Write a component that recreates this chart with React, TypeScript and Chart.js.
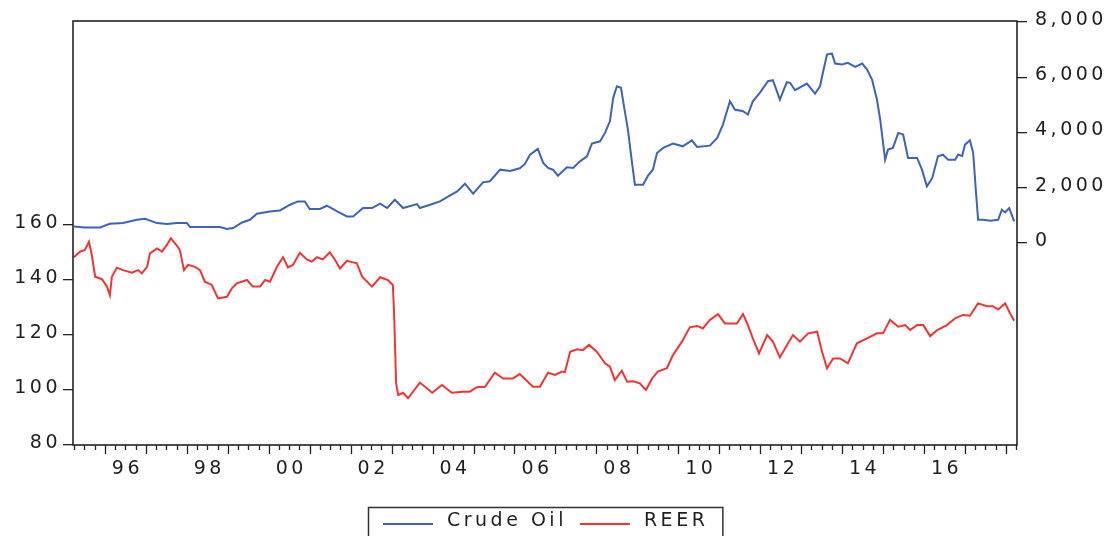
import React, { useEffect, useRef } from 'react';
import { Chart, registerables } from 'chart.js';

Chart.register(...registerables);

const LS = '3.5px';
const FONT = '"DejaVu Sans", "Liberation Sans", Arial, sans-serif';
const FONT_SIZE = 19;
const TEXT = '#1e1e1e';
const AXIS = '#222222';

// x axis: decimal years
const xMin = 1995.22;
const xMax = 2018.27;
const xTickYears = [1996, 1998, 2000, 2002, 2004, 2006, 2008, 2010, 2012, 2014, 2016];
const xTickLabels = ['96', '98', '00', '02', '04', '06', '08', '10', '12', '14', '16'];

const leftTicks = [80, 100, 120, 140, 160];
const rightTicks = [0, 2000, 4000, 6000, 8000];

const seriesNames = ['Crude Oil', 'REER'];
const seriesColors = ['#3d63b5', '#ee3535'];

const oilDates = [
  1995.24, 1995.5, 1995.88, 1996.12, 1996.44, 1996.78, 1996.98, 1997.27, 1997.51, 1997.76,
  1998.0, 1998.08, 1998.81, 1998.98, 1999.13, 1999.35, 1999.54, 1999.71, 2000.03, 2000.27,
  2000.52, 2000.71, 2000.88, 2001.0, 2001.25, 2001.42, 2001.67, 2001.91, 2002.06, 2002.3,
  2002.52, 2002.72, 2002.89, 2003.08, 2003.28, 2003.62, 2003.69, 2003.94, 2004.18, 2004.42,
  2004.6, 2004.79, 2004.99, 2005.23, 2005.4, 2005.65, 2005.89, 2006.13, 2006.25, 2006.38,
  2006.57, 2006.7, 2006.82, 2006.94, 2007.06, 2007.28, 2007.43, 2007.6, 2007.77, 2007.89,
  2008.09, 2008.21, 2008.33, 2008.41, 2008.5, 2008.6, 2008.7, 2008.77, 2008.87, 2008.94,
  2009.14, 2009.26, 2009.38, 2009.48, 2009.63, 2009.87, 2010.11, 2010.33, 2010.46, 2010.77,
  2010.95, 2011.09, 2011.26, 2011.38, 2011.58, 2011.7, 2011.82, 2011.99, 2012.19, 2012.31,
  2012.48, 2012.65, 2012.73, 2012.85, 2013.14, 2013.34, 2013.46, 2013.53, 2013.63, 2013.75,
  2013.83, 2014.0, 2014.14, 2014.32, 2014.49, 2014.61, 2014.73, 2014.85, 2014.93, 2015.05,
  2015.12, 2015.24, 2015.37, 2015.49, 2015.61, 2015.83, 2015.95, 2016.07, 2016.2, 2016.34,
  2016.46, 2016.59, 2016.76, 2016.83, 2016.93, 2017.0, 2017.12, 2017.2, 2017.27, 2017.32,
  2017.44, 2017.62, 2017.81, 2017.9, 2017.98, 2018.08, 2018.2,
];
const oilValues = [
  590, 556, 556, 690, 715, 835, 871, 715, 679, 715,
  715, 570, 570, 497, 534, 737, 835, 1053, 1137, 1173,
  1380, 1500, 1500, 1224, 1224, 1343, 1137, 955, 955, 1260,
  1260, 1416, 1260, 1561, 1260, 1405, 1260, 1380, 1500, 1707,
  1863, 2142, 1779, 2190, 2230, 2650, 2600, 2700, 2850, 3195,
  3402, 2894, 2712, 2650, 2433, 2734, 2712, 2952, 3134, 3595,
  3678, 3983, 4404, 5254, 5675, 5617, 4709, 4103, 2894, 2106,
  2106, 2433, 2650, 3257, 3438, 3595, 3497, 3714, 3475, 3522,
  3802, 4285, 5131, 4829, 4768, 4648, 5131, 5436, 5857, 5893,
  5192, 5821, 5800, 5530, 5773, 5410, 5675, 6162, 6826, 6862,
  6499, 6463, 6525, 6380, 6499, 6282, 5919, 5192, 4466, 3014,
  3377, 3438, 3983, 3921, 3075, 3075, 2650, 2044, 2349, 3134,
  3195, 3014, 3014, 3195, 3150, 3558, 3714, 3257, 1805, 835,
  835, 800, 835, 1198, 1100, 1260, 774,
];

const reerDates = [
  1995.24, 1995.39, 1995.51, 1995.61, 1995.68, 1995.76, 1995.93, 1996.05, 1996.12, 1996.17,
  1996.29, 1996.44, 1996.66, 1996.81, 1996.9, 1997.03, 1997.1, 1997.27, 1997.39, 1997.51,
  1997.61, 1997.76, 1997.83, 1997.93, 1998.03, 1998.2, 1998.32, 1998.44, 1998.61, 1998.76,
  1998.98, 1999.1, 1999.22, 1999.47, 1999.61, 1999.79, 1999.91, 2000.03, 2000.2, 2000.35,
  2000.47, 2000.59, 2000.76, 2000.93, 2001.05, 2001.18, 2001.32, 2001.49, 2001.62, 2001.74,
  2001.91, 2002.15, 2002.28, 2002.52, 2002.72, 2002.91, 2003.03, 2003.06, 2003.11, 2003.16,
  2003.28, 2003.4, 2003.69, 2003.99, 2004.23, 2004.47, 2004.74, 2004.91, 2005.08, 2005.28,
  2005.52, 2005.72, 2005.96, 2006.13, 2006.45, 2006.62, 2006.82, 2006.99, 2007.16, 2007.23,
  2007.36, 2007.53, 2007.67, 2007.82, 2008.01, 2008.21, 2008.33, 2008.45, 2008.62, 2008.75,
  2008.89, 2009.06, 2009.21, 2009.36, 2009.5, 2009.72, 2009.87, 2010.09, 2010.28, 2010.46,
  2010.6, 2010.77, 2010.97, 2011.14, 2011.43, 2011.58, 2011.7, 2011.82, 2011.97, 2012.17,
  2012.31, 2012.48, 2012.61, 2012.8, 2012.97, 2013.17, 2013.39, 2013.51, 2013.63, 2013.78,
  2013.95, 2014.14, 2014.36, 2014.61, 2014.85, 2015.0, 2015.17, 2015.37, 2015.54, 2015.66,
  2015.83, 2015.98, 2016.15, 2016.32, 2016.56, 2016.76, 2016.95, 2017.12, 2017.32, 2017.54,
  2017.68, 2017.81, 2017.98, 2018.1, 2018.2,
];
const reerValues = [
  148.3, 150.3, 150.9, 153.9, 149.1, 141.2, 140.3, 137.6, 134.5, 141.2,
  144.5, 143.6, 142.7, 143.6, 142.4, 144.8, 149.7, 151.5, 150.3, 152.7,
  155.2, 152.4, 150.9, 143.6, 145.5, 144.8, 143.6, 139.4, 138.2, 133.3,
  133.9, 137, 138.8, 140, 137.6, 137.6, 140, 139.4, 144.8, 148.3,
  144.6, 145.5, 149.9, 147.5, 146.7, 148.3, 147.5, 150.1, 147.3, 144.2,
  147, 146.1, 141.2, 137.6, 141, 140, 138.2, 127.9, 102.4, 98.2,
  99, 97, 102.7, 99, 101.8, 99, 99.4, 99.4, 101, 101.2,
  106.3, 104.2, 104.2, 105.8, 101.2, 101.2, 106.3, 105.5, 106.7, 106.5,
  113.9, 114.8, 114.5, 116.4, 113.9, 109.7, 108.5, 103.6, 107, 103,
  103.2, 102.4, 100, 104.2, 106.7, 107.9, 112.7, 117.6, 122.8, 123.3,
  122.4, 125.5, 127.6, 124.2, 124.2, 127.6, 123.6, 118.8, 113.3, 120,
  117.6, 111.9, 115.2, 120, 117.6, 120.6, 121.2, 113.9, 107.9, 111.5,
  111.5, 109.7, 117, 118.8, 120.6, 120.6, 125.5, 123, 123.6, 121.8,
  123.6, 123.6, 119.6, 121.8, 123.6, 126.1, 127.3, 127, 131.5, 130.5,
  130.5, 129.3, 131.5, 127.9, 125.2,
];

function pairs(dates: number[], values: number[]) {
  const n = Math.min(dates.length, values.length);
  const out: { x: number; y: number }[] = [];
  for (let i = 0; i < n; i++) out.push({ x: dates[i], y: values[i] });
  return out;
}

const framePlugin = {
  id: 'eviewsFrame',
  beforeLayout(chart: any) {
    chart.ctx.letterSpacing = LS;
  },
  beforeDraw(chart: any) {
    chart.ctx.letterSpacing = LS;
  },
  afterDraw(chart: any) {
    const { ctx, chartArea: a, scales } = chart;
    const xs = scales.x;
    ctx.save();
    // plot frame
    ctx.strokeStyle = AXIS;
    ctx.lineWidth = 1.6;
    ctx.strokeRect(a.left, a.top, a.right - a.left, a.bottom - a.top);
    // x tick marks: quarterly minor, yearly major
    ctx.lineWidth = 1.3;
    ctx.beginPath();
    const k0 = Math.ceil(xs.min * 4);
    const k1 = Math.floor(xs.max * 4);
    for (let k = k0; k <= k1; k++) {
      const px = Math.round(xs.getPixelForValue(k / 4)) + 0.5;
      const len = k % 4 === 0 ? 9 : 5;
      ctx.moveTo(px, a.bottom);
      ctx.lineTo(px, a.bottom + len);
    }
    ctx.stroke();

    // legend
    ctx.font = `${FONT_SIZE}px ${FONT}`;
    ctx.letterSpacing = LS;
    const ds = chart.data.datasets;
    const lineLen = 50;
    const gapText = 14;
    const gapItem = 13;
    const widths = ds.map((d: any) => ctx.measureText(d.label).width);
    let content = 0;
    widths.forEach((w: number, i: number) => {
      content += lineLen + gapText + w + (i > 0 ? gapItem : 0);
    });
    const padL = 15;
    const padR = 14;
    const bw = content + padL + padR;
    const cx = (a.left + a.right) / 2;
    const bx = Math.round(cx - bw / 2);
    const by = a.bottom + 62;
    ctx.strokeStyle = '#333';
    ctx.lineWidth = 1.5;
    ctx.strokeRect(bx + 0.5, by + 0.5, bw, 60);
    let x = bx + padL;
    ds.forEach((d: any, i: number) => {
      ctx.strokeStyle = d.borderColor;
      ctx.lineWidth = 2;
      ctx.beginPath();
      ctx.moveTo(x, by + 17);
      ctx.lineTo(x + lineLen, by + 17);
      ctx.stroke();
      x += lineLen + gapText;
      ctx.fillStyle = TEXT;
      ctx.textAlign = 'left';
      ctx.textBaseline = 'middle';
      ctx.fillText(d.label, x, by + 14);
      x += widths[i] + gapItem;
    });
    ctx.restore();
  },
};

export default function App() {
  const ref = useRef<HTMLCanvasElement>(null);
  useEffect(() => {
    if (!ref.current) return;
    Chart.defaults.font.family = FONT;
    Chart.defaults.font.size = FONT_SIZE;
    Chart.defaults.color = TEXT;
    const tickFont = { family: FONT, size: FONT_SIZE };
    const chart = new Chart(ref.current, {
      type: 'line',
      data: {
        datasets: [
          {
            label: seriesNames[0],
            data: pairs(oilDates, oilValues),
            yAxisID: 'y1',
            borderColor: seriesColors[0],
            backgroundColor: seriesColors[0],
            borderWidth: 2,
            pointRadius: 0,
            tension: 0,
            fill: false,
          },
          {
            label: seriesNames[1],
            data: pairs(reerDates, reerValues),
            yAxisID: 'y',
            borderColor: seriesColors[1],
            backgroundColor: seriesColors[1],
            borderWidth: 2,
            pointRadius: 0,
            tension: 0,
            fill: false,
          },
        ],
      },
      options: {
        animation: false,
        responsive: true,
        maintainAspectRatio: false,
        events: [],
        layout: { padding: { top: 21, left: 0, right: 0, bottom: 0 } },
        plugins: { legend: { display: false }, tooltip: { enabled: false } },
        scales: {
          x: {
            type: 'linear',
            min: xMin,
            max: xMax,
            border: { display: false },
            grid: { display: false, drawTicks: false },
            afterBuildTicks: (s: any) => {
              s.ticks = xTickYears.map((y) => ({ value: y + 0.5 }));
            },
            ticks: {
              autoSkip: false,
              maxRotation: 0,
              padding: 13,
              labelOffset: 2,
              font: tickFont,
              color: TEXT,
              callback: (_v: any, i: number) => xTickLabels[i] ?? '',
            },
            afterFit: (s: any) => {
              s.height = 91;
            },
          },
          y: {
            type: 'linear',
            position: 'left',
            min: 80,
            max: 234.2,
            border: { display: false },
            grid: { drawOnChartArea: false, drawTicks: true, tickLength: 10, color: AXIS, lineWidth: 1.3 },
            afterBuildTicks: (s: any) => {
              s.ticks = leftTicks.map((v) => ({ value: v }));
            },
            ticks: {
              padding: 2,
              labelOffset: -2,
              font: tickFont,
              color: TEXT,
              callback: (v: any) => String(v),
            },
            afterFit: (s: any) => {
              s.width = 73;
            },
          },
          y1: {
            type: 'linear',
            position: 'right',
            min: -7330,
            max: 8040,
            border: { display: false },
            grid: { drawOnChartArea: false, drawTicks: true, tickLength: 10, color: AXIS, lineWidth: 1.3 },
            afterBuildTicks: (s: any) => {
              s.ticks = rightTicks.map((v) => ({ value: v }));
            },
            ticks: {
              padding: 8,
              labelOffset: -2,
              font: tickFont,
              color: TEXT,
              callback: (v: any) => Number(v).toLocaleString('en-US'),
            },
            afterFit: (s: any) => {
              s.width = 95;
            },
          },
        },
      } as any,
      plugins: [framePlugin],
    });
    return () => chart.destroy();
  }, []);
  return (
    <div style={{ position: 'fixed', left: 0, top: 0, width: '1112px', height: '536px', background: '#fff' }}>
      <canvas ref={ref} />
    </div>
  );
}
